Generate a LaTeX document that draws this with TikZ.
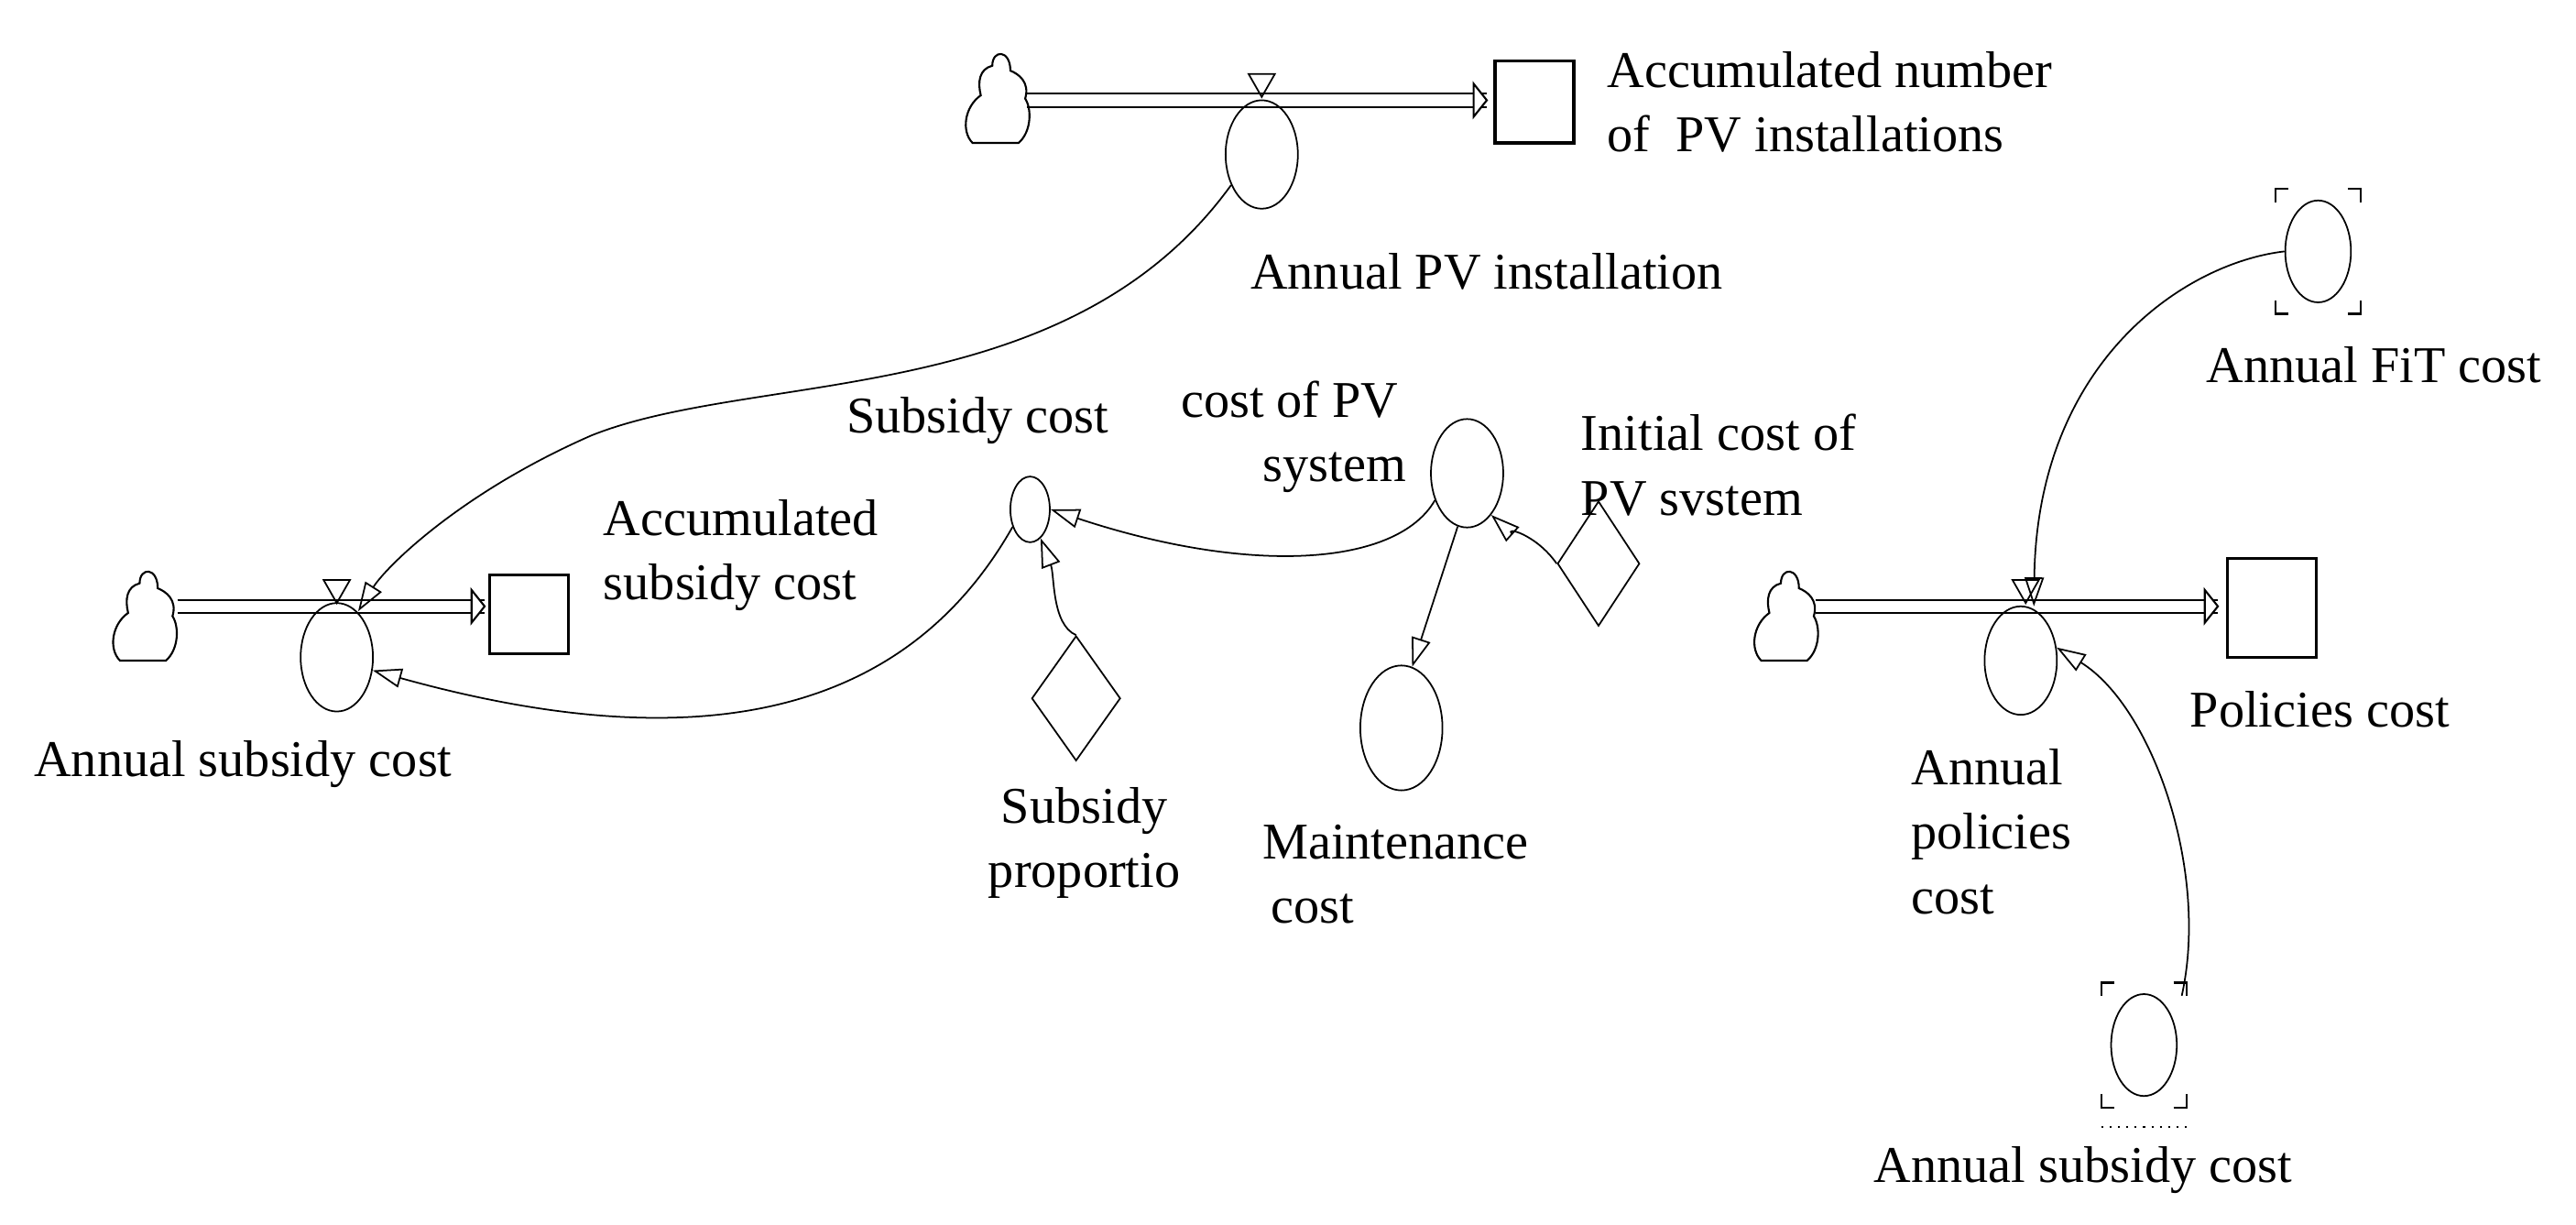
\documentclass[tikz,border=0pt]{standalone}
\usepackage{fontspec}
\setmainfont{Liberation Serif}
\usetikzlibrary{shapes.geometric,arrows.meta}
\tikzset{
  x=0.01793cm, y=-0.01793cm,
  aux/.style={draw, ellipse, inner sep=0pt, minimum width=44*0.01793cm, minimum height=66*0.01793cm, line width=0.5pt},
  cnst/.style={draw, diamond, inner sep=0pt, aspect=0.65, minimum width=50*0.01793cm, minimum height=76*0.01793cm, line width=0.5pt},
  stockbox/.style={draw, rectangle, inner sep=0pt, line width=0.9pt},
  lbl/.style={font=\fontsize{16}{20}\selectfont, inner sep=0pt, align=center},
  lnk/.style={line width=0.5pt, -{Triangle[open, length=9pt, width=6pt]}},
  cloudpic/.pic={\draw[line width=0.6pt] (-15,27) -- (13,27) .. controls (21,20) and (21,6) .. (17,0)
      .. controls (20,-10) and (13,-15) .. (8,-17) .. controls (8,-30) and (-3,-30) .. (-3,-20)
      .. controls (-11,-18) and (-12,-10) .. (-10,-2) .. controls (-20,5) and (-22,20) .. cycle;},
  valvepic/.pic={\draw[line width=0.5pt] (-8,-16) -- (8,-16) -- (0,-2) -- cycle;},
  headpic/.pic={\draw[line width=0.6pt, fill=white] (-8,-10) -- (0,0) -- (-8,10) -- cycle;},
  brk/.pic={\draw[line width=0.6pt] (-26,-30) -- (-26,-38) -- (-18,-38) (18,-38) -- (26,-38) -- (26,-30)
      (-26,30) -- (-26,38) -- (-18,38) (18,38) -- (26,38) -- (26,30);}
}
\newcommand\pipe[3]{\draw[line width=0.6pt] (#1,#3-4) -- (#2,#3-4) (#1,#3+4) -- (#2,#3+4);
  \pic at (#2,#3) {headpic};}
\begin{document}
\begin{tikzpicture}
\useasboundingbox (0,0) rectangle (1568,745);
% top flow
\pic at (607,60) {cloudpic};
\pipe{625}{905}{61}
\node[stockbox, minimum width=48*0.01793cm, minimum height=50*0.01793cm] (stPV) at (934,62) {};
\pic at (768,61) {valvepic};
\node[aux] (rPV) at (768,94) {};
\node[lbl] at (905,165) {Annual PV installation};
\node[lbl, align=left, anchor=west] at (978,62) {Accumulated number\\of\ \ PV installations};
% left flow
\pic at (88,375) {cloudpic};
\pipe{108}{295}{369}
\node[stockbox, minimum width=48*0.01793cm, minimum height=48*0.01793cm] (stSub) at (322,374) {};
\pic at (205,369) {valvepic};
\coordinate (vSub) at (218,372);
\node[aux] (rSub) at (205,400) {};
\node[lbl] at (148,465) {Annual subsidy cost};
\node[lbl, align=left, anchor=west] at (367,338) {Accumulated\\subsidy cost};
% middle
\node[draw, ellipse, inner sep=0pt, minimum width=24*0.01793cm, minimum height=40*0.01793cm, line width=0.5pt] (sc) at (627,310) {};
\node[lbl] at (595,256) {Subsidy cost};
\node[aux] (cpv) at (893,288) {};
\node[lbl] at (785,266) {cost of PV\\\ \ \ \ \ \ \ system};
\node[cnst] (init) at (973,343) {};
\node[lbl, align=left, anchor=west] at (962,283) {Initial cost of\\PV svstem};
\node[cnst, minimum width=54*0.01793cm] (sp) at (655,425) {};
\node[lbl] at (660,513) {Subsidy\\proportio};
\node[aux, minimum width=50*0.01793cm, minimum height=76*0.01793cm] (mc) at (853,443) {};
\node[lbl, align=left, anchor=west] at (768,532) {Maintenance\\\,cost};
% right flow
\pic at (1087,375) {cloudpic};
\pipe{1105}{1350}{369}
\node[stockbox, minimum width=54*0.01793cm, minimum height=60*0.01793cm] (stPol) at (1383,370) {};
\pic at (1233,369) {valvepic};
\coordinate (vPol) at (1238,369);
\node[aux] (rPol) at (1230,402) {};
\node[lbl] at (1412,432) {Policies cost};
\node[lbl, align=left, anchor=west] at (1163,506) {Annual\\policies\\cost};
\node[draw, ellipse, inner sep=0pt, minimum width=40*0.01793cm, minimum height=62*0.01793cm, line width=0.5pt] (fit) at (1411,153) {};
\pic at (1411,153) {brk};
\node[lbl] at (1445,222) {Annual FiT cost};
\node[draw, ellipse, inner sep=0pt, minimum width=40*0.01793cm, minimum height=62*0.01793cm, line width=0.5pt] (sh) at (1305,636) {};
\pic at (1305,636) {brk};
\draw[dotted, line width=0.6pt] (1279,686) -- (1331,686);
\node[lbl] at (1268,712) {Annual subsidy cost};
% links
\draw[lnk] (rPV.225) .. controls (650,250) and (460,225) .. (360,265) .. controls (280,300) and (235,345) .. (vSub);
\draw[lnk] (sc.225) .. controls (560,420) and (450,470) .. (rSub.-20);
\draw[lnk] (cpv.220) .. controls (850,345) and (760,350) .. (sc.east);
\draw[lnk] (init.west) .. controls (935,325) and (915,320) .. (cpv.-60);
\draw[lnk] (cpv.260) -- (mc.80);
\draw[lnk] (sp.north) .. controls (640,380) and (642,350) .. (sc.-70);
\draw[lnk] (fit.west) .. controls (1330,160) and (1240,220) .. (vPol);
\draw[lnk] (1328,606) .. controls (1345,530) and (1310,430) .. (rPol.20);
\end{tikzpicture}
\end{document}
